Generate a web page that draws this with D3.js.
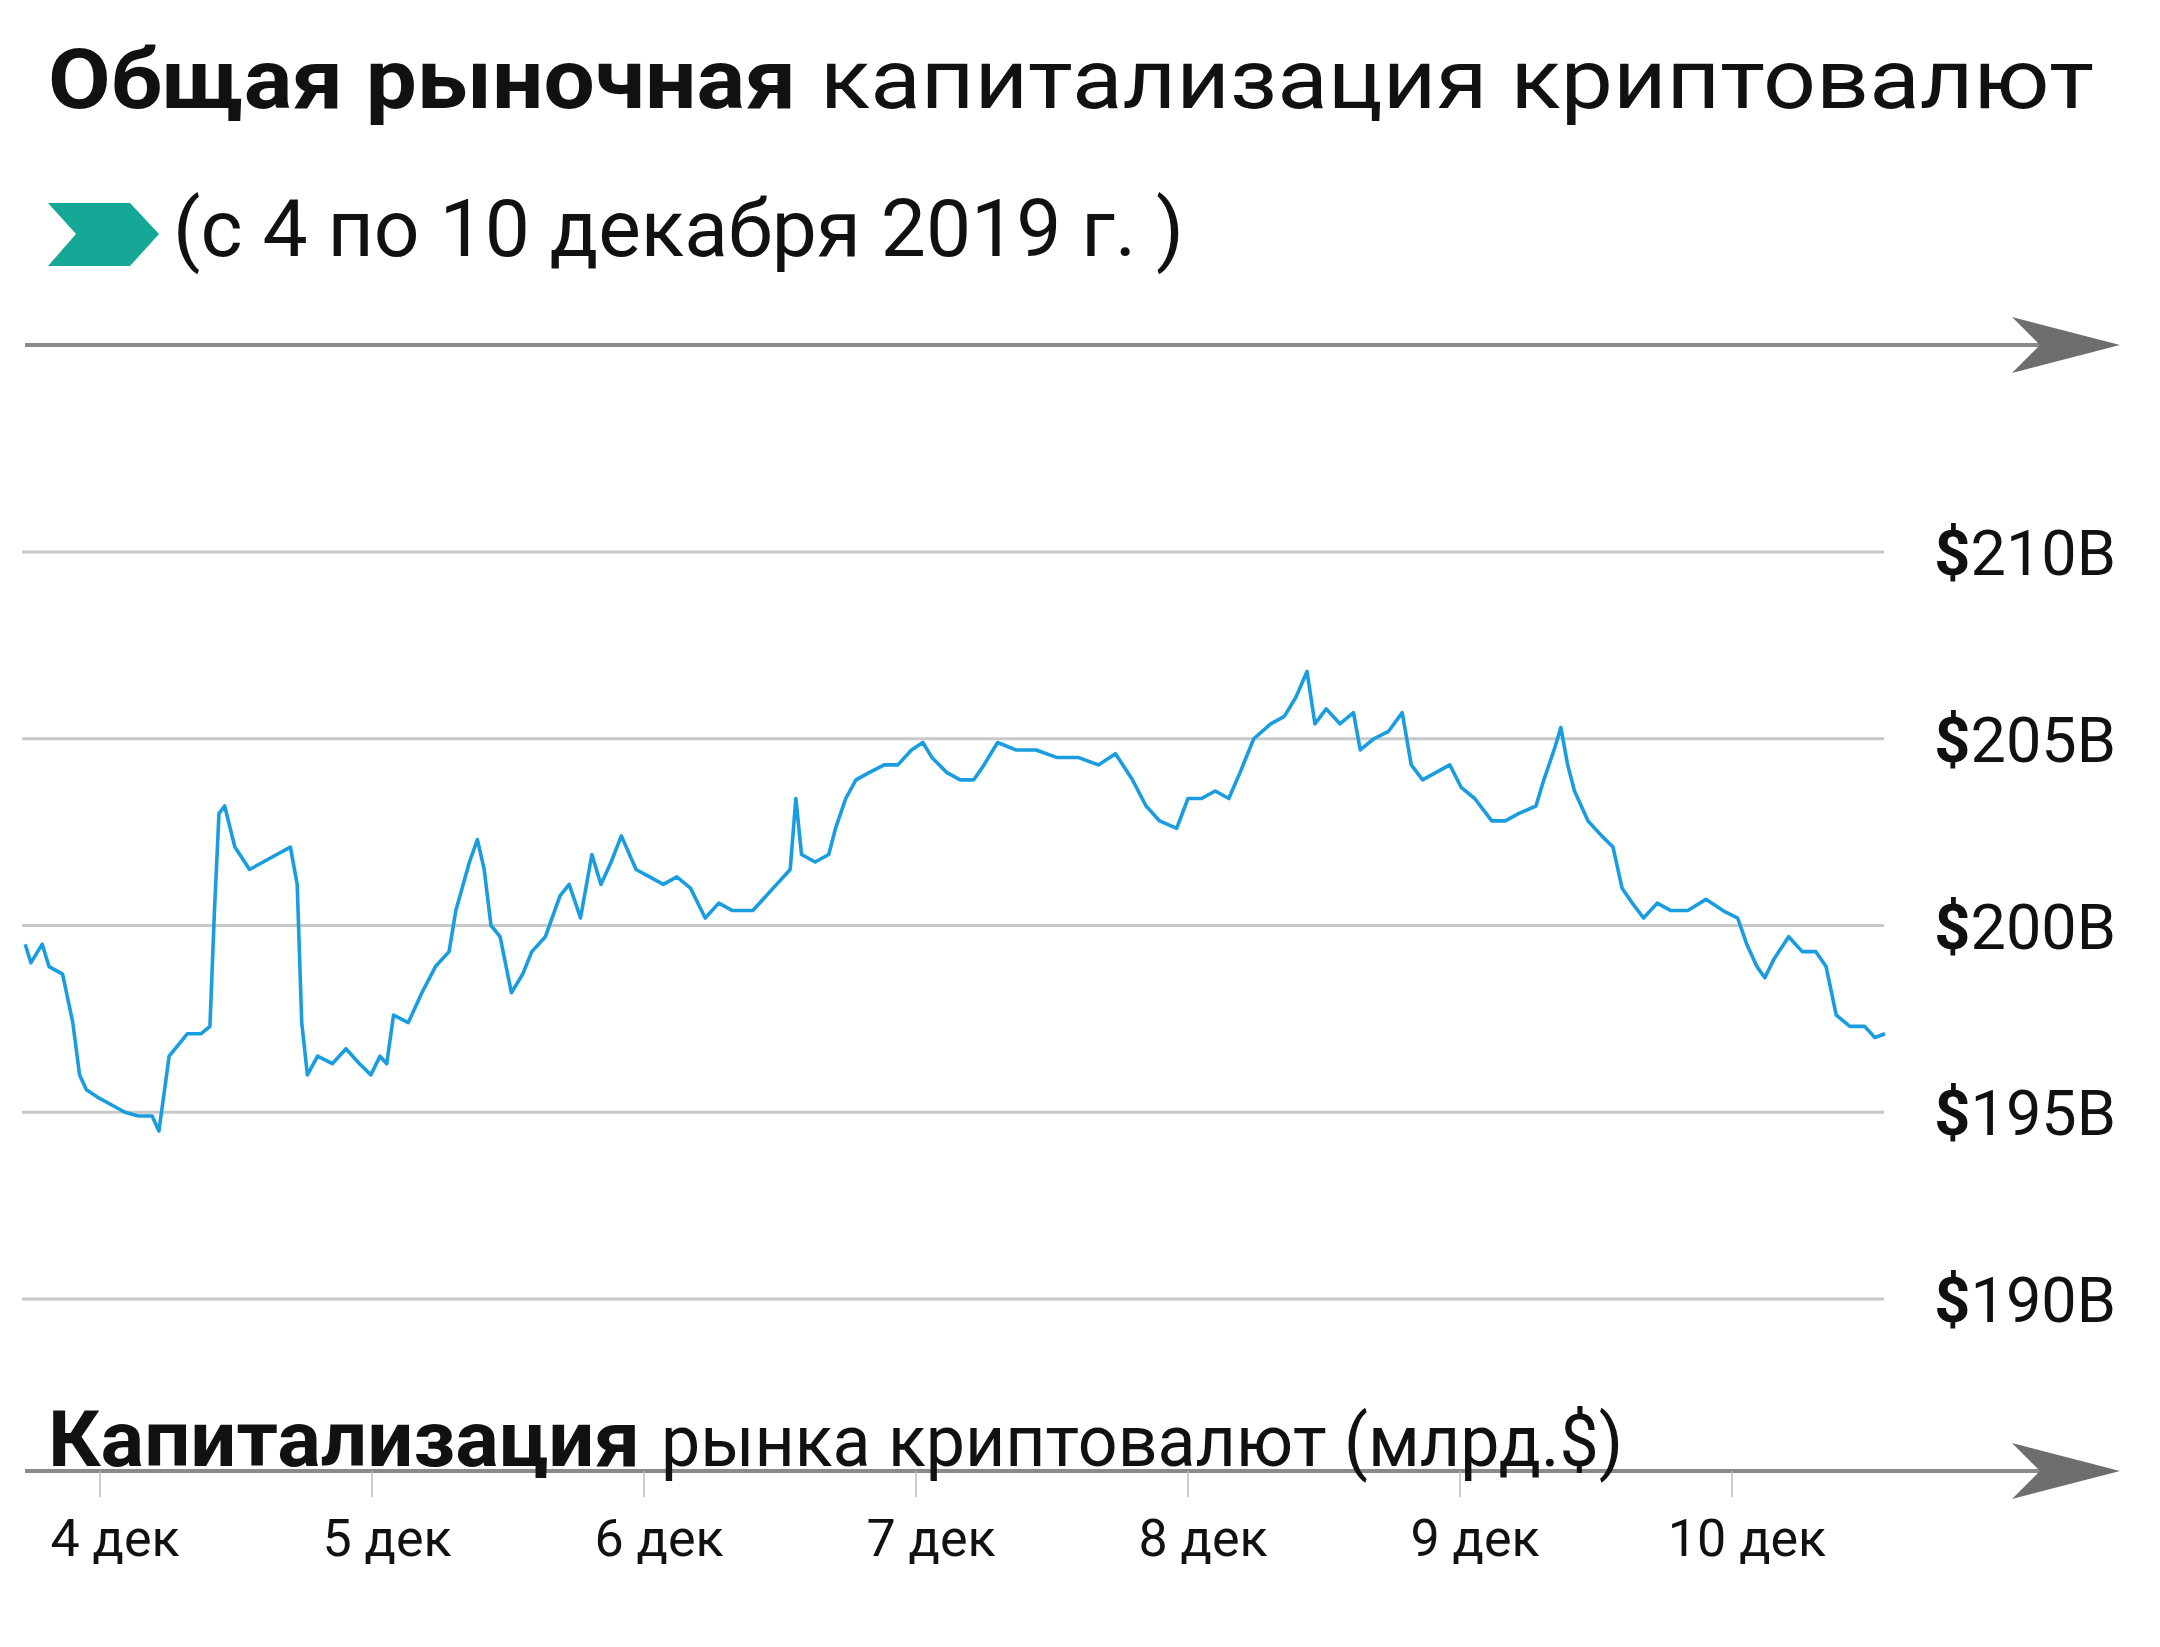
<!DOCTYPE html>
<html><head><meta charset="utf-8">
<script src="https://cdn.jsdelivr.net/npm/d3@7"></script>
<style>body{margin:0;background:#fff}svg{display:block}</style>
</head><body>
<svg id="chart" width="2160" height="1647"></svg>
<script>
// hours since 4 Dec 2019 00:00
const hours = [-6.6,-6.1,-5.1,-4.5,-3.3,-2.4,-1.8,-1.2,-0.2,1.0,2.2,3.4,4.6,5.2,6.1,7.7,8.9,9.7,10.1,10.5,11.0,11.9,13.2,14.4,15.6,16.8,17.4,17.8,18.3,19.2,20.5,21.7,22.9,23.9,24.7,25.3,25.9,27.2,28.4,29.6,30.8,31.4,32.6,33.3,33.9,34.5,35.3,36.3,37.3,38.1,39.3,40.6,41.4,42.4,43.4,44.2,45.1,46.0,47.3,48.5,49.7,50.9,52.1,53.4,54.6,55.8,57.6,59.4,60.9,61.4,61.9,63.1,64.3,64.9,65.8,66.7,67.9,69.2,70.4,71.6,72.6,73.4,74.7,75.9,77.1,78.0,79.2,80.8,82.6,84.4,86.3,88.1,89.6,91.1,92.3,93.5,95.0,96.0,97.2,98.4,99.6,100.6,101.8,103.3,104.5,105.5,106.5,107.2,108.2,109.4,110.6,111.2,112.4,113.7,114.9,115.7,116.7,117.9,119.1,120.1,121.3,122.8,124.0,125.2,126.7,127.4,128.3,128.9,129.5,130.1,131.3,132.5,133.5,134.3,135.2,136.2,137.4,138.6,140.1,141.7,143.2,144.5,145.3,146.2,146.9,147.7,149.0,150.2,151.4,152.3,153.2,154.4,155.7,156.6,157.5];
const values = [199.5,199.0,199.5,198.9,198.7,197.4,196.0,195.6,195.4,195.2,195.0,194.9,194.9,194.5,196.5,197.1,197.1,197.3,200.4,203.0,203.2,202.1,201.5,201.7,201.9,202.1,201.1,197.4,196.0,196.5,196.3,196.7,196.3,196.0,196.5,196.3,197.6,197.4,198.2,198.9,199.3,200.4,201.7,202.3,201.5,200.0,199.7,198.2,198.7,199.3,199.7,200.8,201.1,200.2,201.9,201.1,201.7,202.4,201.5,201.3,201.1,201.3,201.0,200.2,200.6,200.4,200.4,201.0,201.5,203.4,201.9,201.7,201.9,202.6,203.4,203.9,204.1,204.3,204.3,204.7,204.9,204.5,204.1,203.9,203.9,204.3,204.9,204.7,204.7,204.5,204.5,204.3,204.6,203.9,203.2,202.8,202.6,203.4,203.4,203.6,203.4,204.1,205.0,205.4,205.6,206.1,206.8,205.4,205.8,205.4,205.7,204.7,205.0,205.2,205.7,204.3,203.9,204.1,204.3,203.7,203.4,202.8,202.8,203.0,203.2,203.9,204.7,205.3,204.3,203.6,202.8,202.4,202.1,201.0,200.6,200.2,200.6,200.4,200.4,200.7,200.4,200.2,199.5,198.9,198.6,199.1,199.7,199.3,199.3,198.9,197.6,197.3,197.3,197.0,197.1];
const yTicks = [190, 195, 200, 205, 210];
const dayTicks = [4, 5, 6, 7, 8, 9, 10];

const svg = d3.select("#chart");
const font = "Roboto, 'Noto Sans', sans-serif";
const t0 = new Date(2019, 11, 4);
const data = hours.map((h, i) => ({ t: new Date(+t0 + h * 3600e3), v: values[i] }));

const x = d3.scaleTime().domain([t0, new Date(2019, 11, 11)]).range([100, 2004]);
const y = d3.scaleLinear().domain([190, 210]).range([1299, 552]);

// titles
const txt = (s, px, py, size, w, len) =>
  svg.append("text").text(s).attr("x", px).attr("y", py)
    .attr("font-family", font).attr("font-size", size).attr("font-weight", w)
    .attr("fill", "#111").attr("textLength", len).attr("lengthAdjust", "spacingAndGlyphs");
txt("Общая рыночная", 48, 108, 84, 700, 748);
txt("капитализация криптовалют", 820, 108, 84, 400, 1274);
txt("(с 4 по 10 декабря 2019 г. )", 173, 256, 80, 400, 1011);
svg.append("polygon").attr("points", "48,203 130,203 159,234 130,266 48,266 76,234").attr("fill", "#16a897");

// axis arrows
const arrow = yy => {
  svg.append("line").attr("x1", 25).attr("x2", 2060).attr("y1", yy).attr("y2", yy)
    .attr("stroke", "#8a8a8a").attr("stroke-width", 4);
  svg.append("polygon")
    .attr("points", `2012,${yy - 28} 2120,${yy} 2012,${yy + 28} 2040,${yy}`)
    .attr("fill", "#6e6e6e");
};
arrow(345);

// grid
svg.append("g").selectAll("line").data(yTicks).join("line")
  .attr("x1", 22).attr("x2", 1884).attr("y1", d => y(d)).attr("y2", d => y(d))
  .attr("stroke", "#c8c8c8").attr("stroke-width", 3);
const yl = svg.append("g").selectAll("text").data(yTicks).join("text")
  .attr("x", 2116).attr("y", d => y(d) + 23).attr("text-anchor", "end")
  .attr("font-family", font).attr("font-size", 63).attr("fill", "#111");
yl.append("tspan").attr("font-weight", 700).text("$");
yl.append("tspan").text(d => d + "B");

// line
svg.append("path").datum(data)
  .attr("d", d3.line().x(d => x(d.t)).y(d => y(d.v)))
  .attr("fill", "none").attr("stroke", "#1a9de0").attr("stroke-width", 3.6)
  .attr("stroke-linejoin", "round");

// bottom axis
arrow(1471);
const dx = d => x(new Date(2019, 11, d));
svg.append("g").selectAll("line").data(dayTicks).join("line")
  .attr("x1", dx).attr("x2", dx).attr("y1", 1471).attr("y2", 1497)
  .attr("stroke", "#bbb").attr("stroke-width", 1.5);
svg.append("g").selectAll("text").data(dayTicks).join("text")
  .attr("x", d => dx(d) + 15).attr("y", 1556).attr("text-anchor", "middle")
  .attr("font-family", font).attr("font-size", 52).attr("fill", "#111")
  .text(d => d + " дек");
txt("Капитализация", 48, 1466, 78, 700, 592);
txt("рынка криптовалют (млрд.$)", 661, 1466, 72, 400, 962);
</script>
</body></html>
